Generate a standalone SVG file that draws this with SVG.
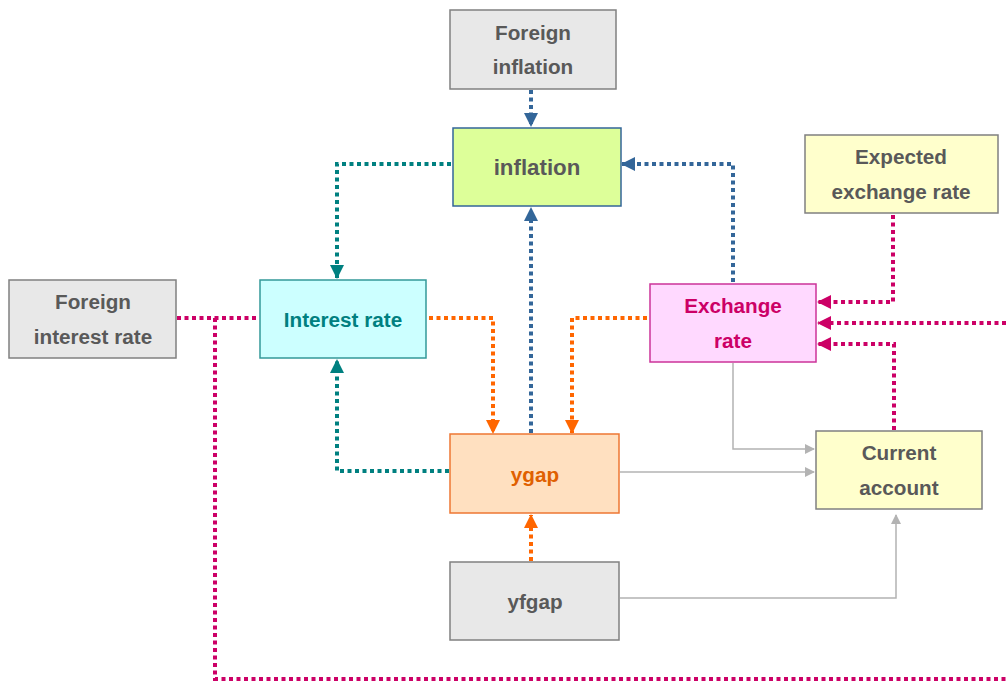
<svg xmlns="http://www.w3.org/2000/svg" width="1006" height="682" viewBox="0 0 1006 682">
<style>
text{font-family:"Liberation Sans",Arial,sans-serif;font-weight:bold;font-size:20.7px;text-anchor:middle;dominant-baseline:central}
.g{fill:#e8e8e8;stroke:#808080;stroke-width:1.5}
.y{fill:#ffffcc;stroke:#808080;stroke-width:1.5}
.dk{fill:#595959}
.d{fill:none;stroke-width:4;stroke-dasharray:4 3.5}
.blue{stroke:#336699}
.teal{stroke:#008080}
.orange{stroke:#ff6600}
.mag{stroke:#cc0066}
.gray{fill:none;stroke:#b3b3b3;stroke-width:1.5}
</style>
<defs>
<marker id="ab" markerUnits="userSpaceOnUse" markerWidth="14" markerHeight="14" refX="13" refY="7" orient="auto"><path d="M0,0L14,7L0,14z" fill="#336699"/></marker>
<marker id="at" markerUnits="userSpaceOnUse" markerWidth="14" markerHeight="14" refX="13" refY="7" orient="auto"><path d="M0,0L14,7L0,14z" fill="#008080"/></marker>
<marker id="ao" markerUnits="userSpaceOnUse" markerWidth="14" markerHeight="14" refX="13" refY="7" orient="auto"><path d="M0,0L14,7L0,14z" fill="#ff6600"/></marker>
<marker id="am" markerUnits="userSpaceOnUse" markerWidth="14" markerHeight="14" refX="13" refY="7" orient="auto"><path d="M0,0L14,7L0,14z" fill="#cc0066"/></marker>
<marker id="ag" markerUnits="userSpaceOnUse" markerWidth="10" markerHeight="10" refX="9" refY="5" orient="auto"><path d="M0,0L10,5L0,10z" fill="#b3b3b3"/></marker>
</defs>
<g id="connectors">
<path class="d blue" d="M531,90V126" marker-end="url(#ab)"/>
<path class="d blue" d="M733,282V164H622" marker-end="url(#ab)"/>
<path class="d blue" d="M531,433V208" marker-end="url(#ab)"/>
<path class="d teal" d="M451,164H337V278" marker-end="url(#at)"/>
<path class="d teal" d="M449,471H337V360" marker-end="url(#at)"/>
<path class="d orange" d="M429,318H493V433" marker-end="url(#ao)"/>
<path class="d orange" d="M647,318H572V433" marker-end="url(#ao)"/>
<path class="d orange" d="M531,561V515" marker-end="url(#ao)"/>
<path class="d mag" d="M893,215V302H818" marker-end="url(#am)"/>
<path class="d mag" d="M1006,323H818" marker-end="url(#am)"/>
<path class="d mag" d="M894,430V344H818" marker-end="url(#am)"/>
<path class="d mag" d="M177,318H258"/>
<path class="d mag" d="M215,318V679H1006"/>
<path class="gray" d="M733,363V449H814" marker-end="url(#ag)"/>
<path class="gray" d="M620,472H814" marker-end="url(#ag)"/>
<path class="gray" d="M620,598H896V515" marker-end="url(#ag)"/>
</g>
<g id="foreign-inflation"><rect class="g" x="450" y="10" width="166" height="79"/><text class="dk" x="533" y="32">Foreign</text><text class="dk" x="533" y="66">inflation</text></g>
<g id="inflation"><rect x="453" y="128" width="168" height="78" fill="#ddff99" stroke="#336699" stroke-width="1.5"/><text class="dk" x="537" y="167" style="font-size:22.3px">inflation</text></g>
<g id="expected-exchange-rate"><rect class="y" x="805" y="135" width="193" height="78"/><text class="dk" x="901" y="156">Expected</text><text class="dk" x="901" y="191">exchange rate</text></g>
<g id="foreign-interest-rate"><rect class="g" x="9" y="280" width="167" height="78"/><text class="dk" x="93" y="301">Foreign</text><text class="dk" x="93" y="336">interest rate</text></g>
<g id="interest-rate"><rect x="260" y="280" width="166" height="78" fill="#ccffff" stroke="#339999" stroke-width="1.5"/><text x="343" y="319" fill="#008080">Interest rate</text></g>
<g id="exchange-rate"><rect x="650" y="284" width="166" height="78" fill="#ffd9ff" stroke="#cc3399" stroke-width="1.5"/><text x="733" y="305" fill="#cc0066">Exchange</text><text x="733" y="340" fill="#cc0066">rate</text></g>
<g id="ygap"><rect x="450" y="434" width="169" height="79" fill="#ffe0c0" stroke="#ee7733" stroke-width="1.5"/><text x="535" y="474" fill="#e06000">ygap</text></g>
<g id="current-account"><rect class="y" x="816" y="431" width="166" height="78"/><text class="dk" x="899" y="452">Current</text><text class="dk" x="899" y="487">account</text></g>
<g id="yfgap"><rect class="g" x="450" y="562" width="169" height="78"/><text class="dk" x="535" y="601">yfgap</text></g>
</svg>
